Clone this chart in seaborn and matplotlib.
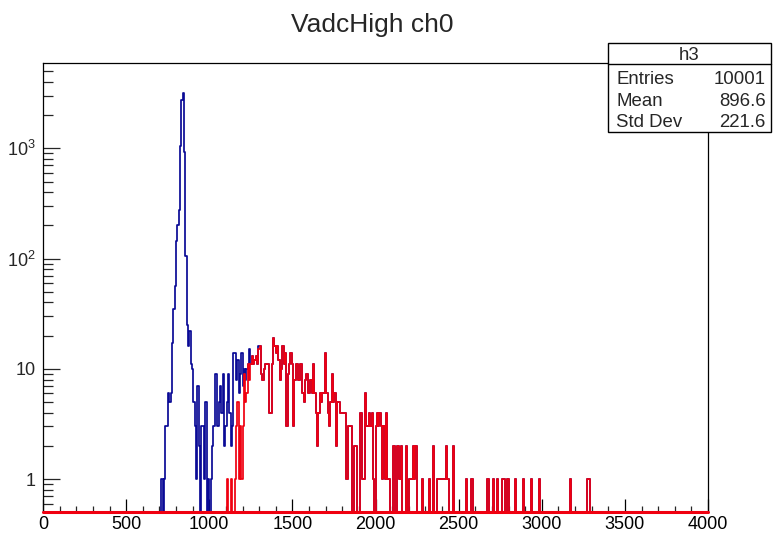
import numpy as np
import pandas as pd
import matplotlib
matplotlib.use("Agg")
import matplotlib.pyplot as plt
import seaborn as sns
from matplotlib.patches import Rectangle
from matplotlib.lines import Line2D
from matplotlib.ticker import FixedLocator, FixedFormatter, LogLocator, MultipleLocator

# ---- histogram binning: 500 bins over 0..4000 ADC ----
bin_width = 8
x_min, x_max = 0, 4000

# h3 (all entries): counts for bins starting at 712 ADC (pedestal peak region)
blue_start = 712
blue_counts = [
    1, 0, 1, 3, 3, 6, 5, 6, 17, 35,
    56, 144, 203, 277, 1060, 2750, 3200, 935, 105, 25,
    16, 22, 11, 10, 5, 3, 1, 7, 2, 0,
    3, 3, 1, 5, 0, 1, 0, 1, 2, 3,
    9, 9, 3, 5, 7, 4, 9, 2, 3, 5,
    9, 4, 2, 3, 14, 14, 8, 12, 6, 9,
    14, 7, 10, 8, 10, 11, 15, 11, 13, 11,
    12, 13, 11, 16, 16,
]

# selected entries: counts for bins starting at 1104 ADC
red_start = 1104
red_counts = [
    1, 0, 0, 1, 0, 0, 1, 3, 5, 1,
    3, 1, 3, 9, 5, 6, 11, 8, 11, 13,
    11, 12, 13, 11, 15, 16, 9, 8, 10, 11,
    11, 11, 4, 4, 11, 19, 16, 14, 16, 12,
    8, 10, 16, 11, 14, 3, 9, 11, 14, 11,
    3, 8, 11, 11, 8, 11, 11, 6, 5, 8,
    9, 6, 6, 8, 6, 11, 6, 4, 2, 4,
    6, 5, 6, 6, 14, 6, 4, 3, 5, 9,
    5, 6, 2, 5, 5, 4, 4, 4, 4, 4,
    1, 3, 3, 3, 0, 0, 2, 2, 0, 0,
    4, 4, 1, 1, 6, 3, 3, 4, 3, 4,
    1, 0, 3, 4, 3, 4, 3, 1, 3, 1,
    4, 1, 1, 0, 0, 2, 2, 0, 2, 2,
    1, 2, 0, 0, 0, 2, 0, 1, 1, 1,
    2, 1, 2, 0, 0, 0, 0, 1,
]
# sparse high-amplitude tail of the selection (bin low edge, count)
red_tail_adc = [2320, 2344, 2368, 2376, 2384, 2392, 2400, 2408, 2416, 2424,
                2432, 2464, 2544, 2576, 2672, 2704, 2728, 2760, 2768, 2792,
                2840, 2888, 2936, 2984, 3168, 3272, 3280]
red_tail_counts = [1, 2, 1, 1, 1, 1, 1, 1, 1, 2,
                   1, 2, 1, 1, 1, 1, 1, 1, 1, 1,
                   1, 1, 1, 1, 1, 1, 1]

title = "VadcHigh ch0"
stats_name = "h3"
stats_rows = [("Entries", "10001"), ("Mean", "896.6"), ("Std Dev", "221.6")]
y_tick_values = [1, 10, 100, 1000]
y_tick_labels = ["1", "10", r"$10^{2}$", r"$10^{3}$"]

# ---- assemble full binned arrays ----
edges = np.arange(x_min, x_max + bin_width, bin_width)
centers = edges[:-1] + bin_width / 2
nb = len(centers)

red_full = np.zeros(nb)
i0 = red_start // bin_width
red_full[i0:i0 + len(red_counts)] = red_counts
for adc, c in zip(red_tail_adc, red_tail_counts):
    red_full[adc // bin_width] = c

# the full sample contains the selection; beyond the pedestal region they coincide
blue_full = red_full.copy()
j0 = blue_start // bin_width
blue_full[j0:j0 + len(blue_counts)] = blue_counts

df_all = pd.DataFrame({"adc": centers, "count": blue_full})
df_sel = pd.DataFrame({"adc": centers, "count": red_full})

# ---- style ----
sns.set_theme(style="white")
plt.rcParams["font.family"] = ["Liberation Sans", "DejaVu Sans"]
plt.rcParams["mathtext.fontset"] = "custom"
plt.rcParams["mathtext.rm"] = "Liberation Sans"
plt.rcParams["mathtext.it"] = "Liberation Sans"
plt.rcParams["mathtext.bf"] = "Liberation Sans"

W, H = 773, 541
fig = plt.figure(figsize=(W / 100, H / 100), dpi=100)
fig.patch.set_facecolor("white")
ax = fig.add_axes([43 / W, 1 - 512 / H, (708 - 43) / W, (512 - 63) / H])
ax.set_yscale("log")

blue, red = "#0a0a96", "#f00010"
for d, col in [(df_all, blue), (df_sel, red)]:
    sns.histplot(data=d, x="adc", weights="count",
                 binwidth=bin_width, binrange=(x_min, x_max),
                 element="step", fill=False, color=col,
                 linewidth=1.25, ax=ax)

ax.set_xlim(x_min, x_max)
ax.set_ylim(0.503, 5940)
# empty bins sit on the lower frame edge
ax.axhline(0.503, color=red, lw=2.2, zorder=5, clip_on=False)

ax.set_xlabel("")
ax.set_ylabel("")
for s in ax.spines.values():
    s.set_visible(True)
    s.set_color("black")
    s.set_linewidth(0.9)

ax.xaxis.set_major_locator(MultipleLocator(500))
ax.xaxis.set_minor_locator(MultipleLocator(100))
ax.yaxis.set_major_locator(FixedLocator(y_tick_values))
ax.yaxis.set_major_formatter(FixedFormatter(y_tick_labels))
ax.yaxis.set_minor_locator(LogLocator(base=10, subs=np.arange(2, 10) * 1.0, numticks=20))
ax.yaxis.set_minor_formatter(plt.NullFormatter())

ax.tick_params(axis="x", which="major", direction="in", length=9.5, width=0.9,
               labelsize=13, pad=3, top=False, bottom=True, colors="black")
ax.tick_params(axis="x", which="minor", direction="in", length=4.5, width=0.9,
               top=False, bottom=True)
ax.tick_params(axis="y", which="major", direction="in", length=12, width=0.9,
               labelsize=13, pad=5, left=True, right=False)
ax.tick_params(axis="y", which="minor", direction="in", length=7, width=0.9,
               left=True, right=False)
ax.grid(False)

# ---- title ----
fig.text(372 / W, 1 - 25 / H, title, ha="center", va="center", fontsize=19)

# ---- statistics box ----
bx0, bx1, by0, by1, bsep = 608, 771, 43, 132, 64
fig.patches.append(Rectangle((bx0 / W, 1 - by1 / H), (bx1 - bx0) / W, (by1 - by0) / H,
                             transform=fig.transFigure, facecolor="white",
                             edgecolor="black", linewidth=1.0, zorder=10))
fig.lines.append(Line2D([bx0 / W, bx1 / W], [1 - bsep / H, 1 - bsep / H],
                        transform=fig.transFigure, color="black", lw=1.0, zorder=11))
fig.text((bx0 + bx1) / 2 / W, 1 - 56 / H, stats_name, ha="center", va="center",
         fontsize=13.4, zorder=12)
for (lab, val), yc in zip(stats_rows, [79, 102, 122.5]):
    fig.text(616 / W, 1 - yc / H, lab, ha="left", va="center", fontsize=13.4, zorder=12)
    fig.text(766 / W, 1 - yc / H, val, ha="right", va="center", fontsize=13.4, zorder=12)

fig.savefig("out.png", dpi=100)
